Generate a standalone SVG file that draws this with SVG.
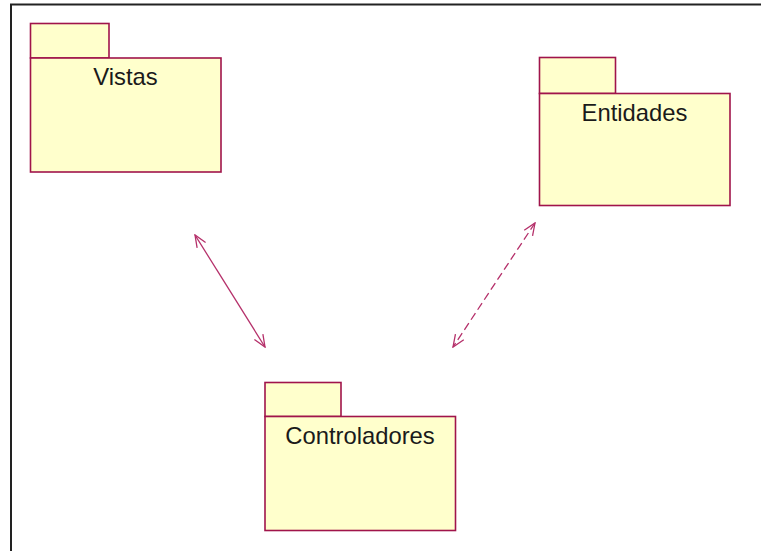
<svg xmlns="http://www.w3.org/2000/svg" width="761" height="551" viewBox="0 0 761 551">
  <defs>
    <style>
      .pkg { fill: #FFFFCC; stroke: #A0144B; stroke-width: 1.6; }
      .lbl { font-family: "Liberation Sans", Arial, sans-serif; font-size: 23.8px; fill: #1a1a1a; text-anchor: middle; }
      .dep { fill: none; stroke: #B5306A; stroke-width: 1.3; }
      .dash { stroke-dasharray: 8 4; }
    </style>
    <marker id="open" viewBox="0 0 14 12" refX="13" refY="6" markerWidth="14" markerHeight="12" markerUnits="userSpaceOnUse" orient="auto-start-reverse">
      <path d="M1,1 L13,6 L1,11" fill="none" stroke="#B5306A" stroke-width="1.3"/>
    </marker>
  </defs>

  <rect width="761" height="551" fill="#ffffff"/>

  <!-- frame edges -->
  <path d="M11,551 V4.5 H761" fill="none" stroke="#222222" stroke-width="2"/>

  <g id="vistas">
    <rect class="pkg" x="30.5" y="23.5" width="78.5" height="34.5"/>
    <rect class="pkg" x="30.5" y="58" width="190.5" height="114"/>
    <text class="lbl" x="125.5" y="84.5">Vistas</text>
  </g>

  <g id="entidades">
    <rect class="pkg" x="539.5" y="57.5" width="76" height="36"/>
    <rect class="pkg" x="539.5" y="93.5" width="190.5" height="112"/>
    <text class="lbl" x="634.5" y="121">Entidades</text>
  </g>

  <g id="controladores">
    <rect class="pkg" x="265" y="382.5" width="76" height="34"/>
    <rect class="pkg" x="265" y="416.5" width="190.5" height="114"/>
    <text class="lbl" x="360" y="444">Controladores</text>
  </g>

  <g id="connectors">
    <line class="dep" x1="195" y1="235" x2="265" y2="347" marker-start="url(#open)" marker-end="url(#open)"/>
    <line class="dep dash" x1="535" y1="223" x2="453" y2="347" marker-start="url(#open)" marker-end="url(#open)"/>
  </g>
</svg>
